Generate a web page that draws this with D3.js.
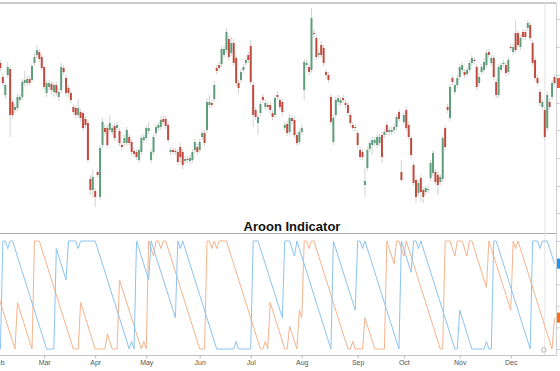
<!DOCTYPE html>
<html>
<head>
<meta charset="utf-8">
<script src="https://cdn.jsdelivr.net/npm/d3@7"></script>
<style>
html, body { margin: 0; padding: 0; background: #fff; overflow: hidden; }
svg { display: block; font-family: "Liberation Sans", Arial, sans-serif; }
</style>
</head>
<body>
<svg width="560" height="371"></svg>
<script>
// trading days of 2018, Feb 1 .. Dec 31 (weekdays minus market holidays)
var holidays = ["2018-02-19","2018-03-30","2018-05-28","2018-07-04","2018-09-03","2018-11-22","2018-12-05","2018-12-25"];
var fmtDay = d3.timeFormat("%Y-%m-%d");
var dates = d3.timeDay.range(new Date(2018, 1, 1), new Date(2019, 0, 1))
  .filter(function(d) { return d.getDay() % 6 != 0 && holidays.indexOf(fmtDay(d)) < 0; });

// candles (price units, one per trading day)
var opens = [
  160,152,138,120,140,146,113,105,107,115, 118,132,132,136,135,152,160,163,158,148,
  122,128,131,123,130,118,125,147,137,127, 122,108,107,100,103,102,96,92,36,25,
  24,43,18,70,87,87,85,83,89,87, 84,70,72,72,78,73,64,63,55,63,
  75,77,84,55,63,82,87,88,96,96, 90,63,65,64,63,68,63,54,56,54,
  55,65,68,65,78,82,85,110,112,116, 147,150,151,160,165,176,162,172,157,132,
  135,145,152,160,169,130,105,92,102,118, 108,110,110,102,100,120,115,113,87,91,
  83,97,95,80,73,83,125,150,148,145, 182,177,160,170,167,143,140,118,73,100,
  113,112,117,112,110,100,90,87,82,65, 63,30,47,66,70,72,70,72,80,80,
  90,83,83,85,88,103,43,93,105,90, 77,50,35,22,37,25,23,25,37,42,
  43,40,33,36,87,108,97,137,123,130, 138,145,143,141,145,152,155,148,132,143,
  145,150,163,152,157,133,120,145,151,150, 143,168,163,182,182,168,183,183,187,190,
  172,155,137,123,108,105,87,113,118,138
];
var closes = [
  152,147,132,130,148,100,100,108,118,118, 133,135,136,132,149,158,165,156,147,128,
  132,132,125,130,122,123,148,143,122,122, 115,103,100,107,97,87,90,55,25,38,
  18,40,67,93,83,70,92,87,77,90, 72,68,77,85,72,63,61,58,65,77,
  78,87,87,63,78,88,90,95,93,89, 75,65,63,63,53,58,50,56,55,57,
  63,73,63,73,82,72,113,113,110,130, 144,147,166,166,183,158,172,152,132,127,
  143,148,155,155,133,100,98,98,111,115, 112,108,105,98,117,118,108,103,90,82,
  97,94,80,72,83,87,153,152,143,197, 181,158,162,160,152,140,135,93,97,115,
  117,115,115,110,102,92,87,88,70,58, 58,34,65,72,75,75,78,78,58,83,
  83,85,85,88,98,96,35,100,87,78, 60,32,18,32,23,18,27,26,52,62,
  33,30,38,77,68,105,128,133,130,137, 148,150,140,145,152,157,154,128,138,148,
  153,162,160,157,138,120,148,150,152,142, 155,167,168,165,170,177,178,178,192,177,
  152,137,132,112,113,78,120,108,132,132
];
var highs = [
  164,155,142,133,153,149,116,111,121,121, 136,144,140,139,152,162,170,166,160,150,
  135,135,134,133,133,127,152,150,140,130, 124,111,110,116,106,104,99,95,40,45,
  27,46,70,97,90,90,100,90,92,93, 87,73,80,88,81,76,67,66,68,80,
  81,90,93,66,81,91,93,99,100,99, 93,68,68,67,66,72,66,59,59,60,
  66,76,71,76,85,85,117,120,115,134, 150,153,169,170,187,180,178,176,160,135,
  146,151,158,163,175,133,108,101,114,121, 116,113,113,105,120,124,118,116,93,94,
  101,100,98,83,86,90,156,156,151,207, 186,180,166,174,170,146,143,121,100,118,
  120,118,120,115,113,103,93,91,85,68, 66,47,68,75,78,78,81,81,83,86,
  93,88,88,91,101,106,55,103,108,93, 80,53,38,35,40,28,30,29,55,65,
  46,43,41,80,90,111,131,140,133,140, 151,153,146,148,155,160,158,151,141,151,
  156,165,166,160,160,136,151,153,155,153, 158,171,171,195,185,180,186,186,195,193,
  175,158,140,126,116,108,123,116,135,141
];
var lows = [
  149,144,129,116,137,78,96,102,104,112, 115,129,129,129,133,149,157,153,144,125,
  118,125,121,118,119,114,122,140,119,118, 112,100,97,97,93,84,87,52,20,18,
  8,37,15,67,80,67,82,80,74,84, 69,64,69,69,69,60,58,55,52,60,
  72,74,81,52,60,79,84,85,90,86, 72,60,60,60,50,52,46,51,52,51,
  52,62,60,62,75,69,82,107,107,113, 141,144,148,157,162,155,159,149,129,121,
  132,142,149,152,130,88,95,80,99,112, 105,105,102,95,97,115,105,100,84,79,
  80,91,77,69,70,80,115,147,140,142, 178,155,157,157,149,137,132,90,70,97,
  110,109,112,107,99,89,84,84,67,55, 55,18,44,63,60,69,67,69,52,77,
  80,80,80,82,85,93,33,90,84,75, 57,29,12,19,13,12,20,22,34,39,
  30,20,30,33,65,102,94,130,120,127, 135,142,137,138,142,149,151,125,129,140,
  142,147,157,149,135,117,117,142,148,139, 140,164,160,162,167,165,175,175,184,174,
  149,134,129,109,105,75,84,105,115,129
];

// aroon lines as [trading day index, value] turning points
var aroonUp = [[0,50],[7,0],[8,43],[14,0],[15,100],[17,100],[31,0],[33,0],[34,43],[40,0],[44,0],[45,14],[47,0],[49,0],[50,64],[59,0],[60,7],[61,0],[62,100],[63,93],[64,86],[65,100],[66,100],[67,93],[68,100],[69,100],[83,0],[85,0],[86,100],[87,100],[88,93],[89,100],[90,93],[91,100],[94,100],[108,0],[109,0],[110,7],[111,0],[112,43],[118,0],[119,0],[120,21],[123,0],[124,36],[125,29],[126,100],[127,100],[128,93],[129,100],[130,100],[144,0],[145,0],[146,7],[147,0],[150,0],[151,29],[155,0],[159,0],[160,100],[163,79],[164,100],[165,100],[167,86],[168,100],[182,0],[183,0],[184,100],[186,100],[188,86],[189,100],[191,100],[193,86],[194,100],[195,100],[201,57],[202,100],[211,36],[212,100],[213,93],[214,100],[228,0],[229,29]];
var aroonDown = [[0,0],[1,0],[2,100],[3,100],[4,93],[5,100],[6,100],[20,0],[23,0],[24,93],[28,64],[29,100],[32,100],[33,93],[34,100],[40,100],[54,0],[55,7],[56,0],[57,100],[62,64],[63,100],[73,29],[74,100],[75,93],[76,100],[90,0],[97,0],[98,7],[99,0],[104,0],[105,100],[107,100],[117,29],[118,100],[120,100],[122,86],[123,100],[137,0],[138,100],[147,36],[148,100],[149,100],[150,93],[151,100],[165,0],[166,100],[170,71],[171,100],[172,100],[173,93],[174,100],[188,0],[189,0],[190,36],[195,0],[200,0],[201,7],[202,0],[203,0],[204,100],[205,100],[219,0],[220,100],[222,100],[223,93],[224,100],[226,100],[229,79]];

var priceTicks = [2, 29, 57, 85, 112, 140, 168, 196];
var aroonTicks = [0, 20, 40, 60, 80, 100];
var crosshairIndex = 225;

var svg = d3.select("svg");
var plotRight = 556;

var x = d3.scaleLinear().domain([0, dates.length - 1]).range([-2, 554.5]);
var y = d3.scaleLinear().domain([0, 215]).range([215, 0]);
var ya = d3.scaleLinear().domain([0, 100]).range([349, 241]);

svg.append("clipPath").attr("id", "clip")
  .append("rect").attr("x", 0).attr("y", 0).attr("width", plotRight).attr("height", 371);

// frame lines
svg.append("line").attr("x1", 0).attr("x2", plotRight).attr("y1", 3).attr("y2", 3)
  .attr("stroke", "#9a9a9a").attr("stroke-width", 1.2);
svg.append("line").attr("x1", plotRight + 0.5).attr("x2", plotRight + 0.5).attr("y1", 3).attr("y2", 356)
  .attr("stroke", "#d0d0d0");
svg.append("line").attr("x1", 0).attr("x2", plotRight).attr("y1", 233.5).attr("y2", 233.5)
  .attr("stroke", "#aaaaaa");
svg.append("line").attr("x1", 0).attr("x2", plotRight).attr("y1", 355.5).attr("y2", 355.5)
  .attr("stroke", "#c4c4c4");

// right side ticks (labels sit outside the window)
svg.append("g").attr("transform", "translate(" + (plotRight + 0.5) + ",0)")
  .call(d3.axisRight(y).tickValues(priceTicks).tickSize(3).tickFormat(""))
  .call(function(g) { g.select(".domain").remove(); g.selectAll("line").attr("stroke", "#c8c8c8"); });
svg.append("g").attr("transform", "translate(" + (plotRight + 0.5) + ",0)")
  .call(d3.axisRight(ya).tickValues(aroonTicks).tickSize(3).tickFormat(""))
  .call(function(g) { g.select(".domain").remove(); g.selectAll("line").attr("stroke", "#c8c8c8"); });

// crosshair
svg.append("line").attr("x1", x(crosshairIndex)).attr("x2", x(crosshairIndex))
  .attr("y1", 3).attr("y2", 355).attr("stroke", "#e6e6e6");

var plot = svg.append("g").attr("clip-path", "url(#clip)");

var idx = d3.range(dates.length);
plot.append("g").selectAll("line").data(idx).enter().append("line")
  .attr("x1", function(i) { return x(i); }).attr("x2", function(i) { return x(i); })
  .attr("y1", function(i) { return y(highs[i]); }).attr("y2", function(i) { return y(lows[i]); })
  .attr("stroke", "#c6c6c6").attr("stroke-width", 0.8);

plot.append("g").selectAll("rect").data(idx).enter().append("rect")
  .attr("x", function(i) { return x(i) - 1; })
  .attr("width", 2)
  .attr("y", function(i) { return y(Math.max(opens[i], closes[i])); })
  .attr("height", function(i) { return Math.max(1, Math.abs(y(opens[i]) - y(closes[i]))); })
  .attr("fill", function(i) { return closes[i] >= opens[i] ? "#5f9e7c" : "#c24b3f"; });

// title
svg.append("text").attr("x", 292).attr("y", 231).attr("text-anchor", "middle")
  .attr("font-size", 13).attr("font-weight", "bold").attr("fill", "#111")
  .text("Aroon Indicator");

var line = d3.line().x(function(d) { return x(d[0]); }).y(function(d) { return ya(d[1]); });
plot.append("path").datum(aroonUp).attr("d", line)
  .attr("fill", "none").attr("stroke", "#f5b38d").attr("stroke-width", 1);
plot.append("path").datum(aroonDown).attr("d", line)
  .attr("fill", "none").attr("stroke", "#8cc3f0").attr("stroke-width", 1);

svg.append("circle").attr("cx", x(crosshairIndex) - 1).attr("cy", 350).attr("r", 2.2)
  .attr("fill", "#fff").attr("stroke", "#999").attr("stroke-width", 0.8);

// month axis
var monthTicks = idx.filter(function(i) { return i == 0 || dates[i].getMonth() != dates[i - 1].getMonth(); });
svg.append("g").attr("transform", "translate(0,355.5)")
  .call(d3.axisBottom(x).tickValues(monthTicks).tickSize(3).tickPadding(2)
    .tickFormat(function(i) { return d3.timeFormat("%b")(dates[i]); }))
  .call(function(g) {
    g.select(".domain").remove();
    g.selectAll("line").attr("stroke", "#b8b8b8");
    g.selectAll("text").attr("fill", "#555").attr("font-size", 7)
      .attr("font-family", "'Liberation Sans', Arial, sans-serif");
  });

// last value tags
var last = dates.length - 1;
svg.append("rect").attr("x", plotRight + 1).attr("y", y(closes[last]) - 5).attr("width", 10).attr("height", 10)
  .attr("fill", "#ef5a3f");
svg.append("rect").attr("x", plotRight + 1).attr("y", ya(aroonDown[aroonDown.length - 1][1]) - 5).attr("width", 10).attr("height", 10)
  .attr("fill", "#2196f3");
svg.append("rect").attr("x", plotRight + 1).attr("y", ya(aroonUp[aroonUp.length - 1][1]) - 5).attr("width", 10).attr("height", 10)
  .attr("fill", "#ff6d1a");
</script>
</body>
</html>
